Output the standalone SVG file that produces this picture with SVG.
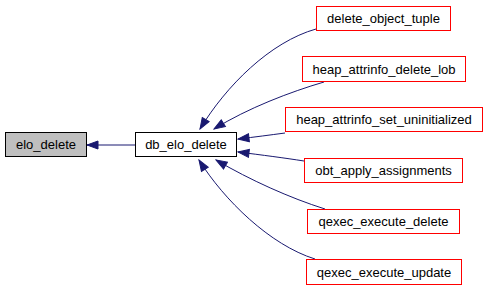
<svg xmlns="http://www.w3.org/2000/svg" width="488" height="291" viewBox="0 0 488 291">
  <style>
    .box { fill: #ffffff; stroke: #ff0000; stroke-width: 1; }
    .main { fill: #ffffff; stroke: #000000; stroke-width: 1; }
    .root { fill: #bfbfbf; stroke: #000000; stroke-width: 1; }
    .lbl { font-family: "Liberation Sans", Arial, sans-serif; font-size: 13px; fill: #000000; text-anchor: middle; }
    .edge { fill: none; stroke: #191970; stroke-width: 1; marker-end: url(#arrow); }
  </style>
  <defs>
    <marker id="arrow" markerUnits="userSpaceOnUse" markerWidth="13" markerHeight="10" refX="12" refY="5" orient="auto">
      <path d="M1,1 L12,5 L1,9 Z" fill="#191970" stroke="#191970" stroke-width="1"/>
    </marker>
  </defs>
  <rect width="488" height="291" fill="#ffffff"/>

  <g id="edges">
    <path class="edge" d="M135,145 L87,145"/>
    <path class="edge" d="M316,29 C270,42 226,86 200,129"/>
    <path class="edge" d="M324,82 C290,92 248,108 214,129"/>
    <path class="edge" d="M285,133 C270,135 255,137 238,139"/>
    <path class="edge" d="M304,161 C285,158 262,155 238,152"/>
    <path class="edge" d="M325,209 C290,198 250,180 216,160"/>
    <path class="edge" d="M315,259 C270,245 224,200 199,160"/>
  </g>

  <g id="elo_delete">
    <rect class="root" x="5.5" y="132.5" width="81" height="24"/>
    <text class="lbl" x="46" y="149">elo_delete</text>
  </g>
  <g id="db_elo_delete">
    <rect class="main" x="135.5" y="132.5" width="101" height="24"/>
    <text class="lbl" x="186" y="149">db_elo_delete</text>
  </g>
  <g id="delete_object_tuple">
    <rect class="box" x="316.5" y="6.5" width="134" height="24"/>
    <text class="lbl" x="383.5" y="23">delete_object_tuple</text>
  </g>
  <g id="heap_attrinfo_delete_lob">
    <rect class="box" x="302.5" y="56.5" width="163" height="25"/>
    <text class="lbl" x="384" y="73.5">heap_attrinfo_delete_lob</text>
  </g>
  <g id="heap_attrinfo_set_uninitialized">
    <rect class="box" x="285.5" y="107.5" width="197" height="24"/>
    <text class="lbl" x="384" y="124">heap_attrinfo_set_uninitialized</text>
  </g>
  <g id="obt_apply_assignments">
    <rect class="box" x="304.5" y="158.5" width="158" height="24"/>
    <text class="lbl" x="383.5" y="175">obt_apply_assignments</text>
  </g>
  <g id="qexec_execute_delete">
    <rect class="box" x="307.5" y="209.5" width="152" height="24"/>
    <text class="lbl" x="383.5" y="226">qexec_execute_delete</text>
  </g>
  <g id="qexec_execute_update">
    <rect class="box" x="306.5" y="259.5" width="155" height="25"/>
    <text class="lbl" x="384" y="276.5">qexec_execute_update</text>
  </g>
</svg>
